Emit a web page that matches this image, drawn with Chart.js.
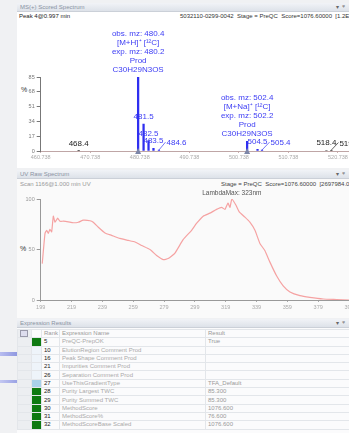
<!DOCTYPE html>
<html>
<head>
<meta charset="utf-8">
<script src="https://cdn.jsdelivr.net/npm/chart.js@4.4.1/dist/chart.umd.min.js"></script>
<style>
  body { margin: 0; width: 349px; height: 433px; overflow: hidden; position: relative;
         background: #f0f1f3; font-family: "Liberation Sans", Arial, sans-serif; }
  .panel { position: absolute; left: 17px; width: 340px; overflow: hidden; }
  .titlebar { position: absolute; left: 0; right: 0; top: 0; height: 8px; line-height: 8px;
              background: linear-gradient(#f1f3f7, #dde2e9); border-bottom: 1px solid #cbd0d8;
              font-size: 6px; color: #8a93a3; padding-left: 3px; }
  .titlebar span { position: absolute; right: 12px; top: 0; color: #666; }
  .txt { position: absolute; font-size: 6px; white-space: nowrap; }
  .wrap { position: absolute; }
  table { border-collapse: collapse; font-size: 6px; table-layout: fixed; }
  td { height: 7.3px; padding: 0 0 0 2px; border: 1px solid #e3e6ea; white-space: nowrap; overflow: hidden; line-height: 7px; }
  .sel { background: #eceef1; }
</style>
</head>
<body>
<div class="panel" style="top:3px;height:165px;background:#fff">
  <div class="titlebar">MS(+) Scored Spectrum<span>▾ &nbsp;ᵠ</span></div>
  <div class="txt" style="left:2px;top:10px;color:#222">Peak 4@0.997 min</div>
  <div class="txt" style="left:163px;top:10px;color:#333">5032110-0299-0042 &nbsp;Stage = PreQC &nbsp;Score=1076.60000 &nbsp;[1.2E08 &nbsp;cnt</div>
  <div class="txt" style="left:4px;top:83px;color:#333;font-size:7px">%</div>
</div>
<div class="panel" style="top:170px;height:148px;background:#fafafa">
  <div class="titlebar">UV Raw Spectrum<span>▾ &nbsp;ᵠ</span></div>
  <div class="txt" style="left:3px;top:11px;color:#999">Scan 1166@1.000 min UV</div>
  <div class="txt" style="left:204px;top:11px;color:#444">Stage = PreQC &nbsp;Score=1076.60000 &nbsp;[2697984.0 &nbsp;mAU]</div>
  <div class="txt" style="left:3px;top:75px;color:#333;font-size:7px">%</div>
</div>
<div class="panel" style="top:319px;height:114px;background:#fbfbfc">
  <div class="titlebar">Expression Results<span>▾ &nbsp;ᵠ</span></div>
  <div class="wrap" style="left:0;top:10px"><table id="results"></table></div>
</div>
<div style="position:absolute;left:0;top:352px;width:17px;height:4px;background:linear-gradient(90deg,#b8bdf0,#8f98e0)"></div>
<div style="position:absolute;left:0;top:380px;width:17px;height:3px;background:linear-gradient(90deg,#c4c8f2,#9aa2e4)"></div>

<div class="wrap" style="left:17px;top:22px;width:363px;height:143px"><canvas id="ms"></canvas></div>
<div class="wrap" style="left:17px;top:185px;width:363px;height:133px"><canvas id="uv"></canvas></div>

<script>
// MS(+) scored spectrum
const peakMz = [468.4, 480.4, 481.5, 482.5, 483.5, 484.6, 502.4, 504.5, 505.4, 518.4, 519.4];
const peakIntensity = [0.5, 85, 31, 12, 3, 1, 11, 2, 1, 0.6, 0.5];
const annotatedMz = [480.4, 502.4];
const annotations = [
  ['obs. mz: 480.4', '[M+H]\u207A [\u00B9\u00B2C]', 'exp. mz: 480.2', 'Prod', 'C30H29N3OS'],
  ['obs. mz: 502.4', '[M+Na]\u207A [\u00B9\u00B2C]', 'exp. mz: 502.2', 'Prod', 'C30H29N3OS']
];
const msTicks = [460.738, 470.738, 480.738, 490.738, 500.738, 510.738, 520.738];
const msYTicks = [0, 17, 34, 51, 68, 85];

// UV raw spectrum
const uvNm = [200, 201.8, 202.9, 203.9, 205, 206.1, 207.2, 208.3, 210, 211.5, 213.7, 216.9, 220.1, 223.4, 226.6,
  231, 233.1, 236.4, 240.7, 245, 250.4, 255.8, 260.2, 264.5, 269.9, 274.2, 278.5, 281.7, 286.1, 291.5, 296.9,
  300.2, 304.4, 308.8, 313.1, 316.4, 318.5, 320.5, 321.8, 323, 325.6, 327.8, 331.5, 334.7, 338, 341.2, 344.4,
  347.7, 352, 356.3, 360.7, 367.2, 373.6, 382.3, 391, 399];
const uvPct = [36, 66, 69, 66, 70, 67.5, 83, 77, 81, 78, 78, 77.4, 76.5, 77, 79,
  78.5, 77, 72, 66.4, 64, 61, 59, 57.4, 54, 50, 44, 40, 41, 46.5, 60, 69,
  76, 83, 86, 89.7, 91.7, 89.7, 96, 91.7, 100, 94, 87.3, 82, 77, 69, 56, 49,
  37.5, 24, 14, 8, 4.3, 2.6, 1, 0.5, 0];
const uvTicks = [199, 219, 239, 259, 279, 299, 319, 339, 359, 379, 399];
const uvYTicks = [0, 50, 100];
const lambdaMax = 323;

// Expression results
const ranks = [5, 10, 16, 21, 26, 27, 28, 29, 30, 31, 32];
const exprNames = ['PreQC-PrepOK', 'ElutionRegion Comment Prod', 'Peak Shape Comment Prod', 'Impurities Comment Prod',
  'Separation Comment Prod', 'UseThisGradientType', 'Purity Largest TWC', 'Purity Summed TWC', 'MethodScore',
  'MethodScore%', 'MethodScoreBase Scaled'];
const exprResults = ['True', '', '', '', '', 'TFA_Default', '85.300', '85.300', '1076.600', '76.600', '1076.600'];
const exprStatus = ['pass', 'none', 'none', 'none', 'none', 'info', 'pass', 'pass', 'pass', 'pass', 'pass'];

const FONT = '"Liberation Sans", Arial, sans-serif';
const isAnnotatedGroup = mz => annotatedMz.some(a => mz >= a && mz - a < 4.5);

const msLabels = {
  id: 'msLabels',
  afterDatasetsDraw(chart) {
    const { ctx, scales: { x, y } } = chart;
    const base = y.getPixelForValue(0);
    const boxes = [];
    ctx.save();
    ctx.font = '8px ' + FONT;
    peakMz.forEach((mz, i) => {
      const px = x.getPixelForValue(mz);
      const top = y.getPixelForValue(peakIntensity[i]);
      const baseline = Math.min(top - 5, base - 5);
      const color = isAnnotatedGroup(mz) ? '#3c3cf4' : '#222';
      ctx.fillStyle = color;
      ctx.strokeStyle = color;
      const ai = annotatedMz.indexOf(mz);
      if (ai >= 0) {
        const lines = annotations[ai];
        ctx.textAlign = 'center';
        lines.forEach((t, k) => ctx.fillText(t, px, baseline - (lines.length - 1 - k) * 9));
        ctx.fillStyle = '#7c86a8';
        ctx.beginPath();
        ctx.moveTo(px - 3, base + 3);
        ctx.lineTo(px + 3, base + 3);
        ctx.lineTo(px, base - 3);
        ctx.closePath();
        ctx.fill();
        return;
      }
      const label = mz.toFixed(1);
      const w = ctx.measureText(label).width;
      let left = px - w / 2;
      const hit = boxes.find(b => left < b.right && left + w > b.left &&
        baseline > b.baseline - 6 && baseline - 6 < b.baseline);
      if (hit) {
        left = hit.right + 3;
        ctx.lineWidth = 0.7;
        ctx.beginPath();
        ctx.moveTo(px, base - 1);
        ctx.lineTo(left - 1, baseline - 3);
        ctx.stroke();
      }
      ctx.textAlign = 'left';
      ctx.fillText(label, left, baseline);
      boxes.push({ left, right: left + w, baseline });
    });
    ctx.restore();
  }
};

new Chart(document.getElementById('ms'), {
  type: 'bar',
  data: {
    datasets: [{
      data: peakMz.map((mz, i) => ({ x: mz, y: peakIntensity[i] })),
      backgroundColor: peakMz.map(mz => isAnnotatedGroup(mz) ? '#2f2ff0' : '#333'),
      barThickness: 1.6,
      grouped: false
    }]
  },
  options: {
    responsive: true,
    maintainAspectRatio: false,
    animation: false,
    layout: { padding: { top: 55, right: 31, left: 0, bottom: 0 } },
    plugins: { legend: { display: false }, tooltip: { enabled: false } },
    scales: {
      x: {
        type: 'linear', min: 460.738, max: 522.96, offset: false,
        afterBuildTicks: s => { s.ticks = msTicks.map(v => ({ value: v })); },
        afterFit: s => { s.height = 14; },
        ticks: { callback: v => v.toFixed(3), color: '#aaa', font: { size: 5.5, family: FONT }, padding: 1, maxRotation: 0, autoSkip: false },
        grid: { drawOnChartArea: false, offset: false, tickLength: 2, color: '#c9b3b3' },
        border: { color: '#bfa6a6' }
      },
      y: {
        min: 0, max: 85,
        afterBuildTicks: s => { s.ticks = msYTicks.map(v => ({ value: v })); },
        afterFit: s => { s.width = 23.7; },
        ticks: { color: '#777', font: { size: 5.5, family: FONT }, padding: 2 },
        grid: { drawOnChartArea: false, tickLength: 4, color: '#777' },
        border: { color: '#777' }
      }
    }
  },
  plugins: [msLabels]
});

const uvLabel = {
  id: 'uvLabel',
  afterDatasetsDraw(chart) {
    const { ctx, scales: { x, y } } = chart;
    const i = uvNm.indexOf(lambdaMax);
    ctx.save();
    ctx.font = '6.5px ' + FONT;
    ctx.fillStyle = '#555';
    ctx.textAlign = 'center';
    ctx.fillText('LambdaMax: ' + lambdaMax + 'nm', x.getPixelForValue(lambdaMax), y.getPixelForValue(uvPct[i]) - 4);
    ctx.restore();
  }
};

new Chart(document.getElementById('uv'), {
  type: 'line',
  data: {
    datasets: [{
      data: uvNm.map((nm, i) => ({ x: nm, y: uvPct[i] })),
      borderColor: '#f5a2a2',
      borderWidth: 1.2,
      pointRadius: 0,
      tension: 0.15
    }]
  },
  options: {
    responsive: true,
    maintainAspectRatio: false,
    animation: false,
    layout: { padding: { top: 14, right: 31, left: 0, bottom: 0 } },
    plugins: { legend: { display: false }, tooltip: { enabled: false } },
    scales: {
      x: {
        type: 'linear', min: 199, max: 399,
        afterBuildTicks: s => { s.ticks = uvTicks.map(v => ({ value: v })); },
        afterFit: s => { s.height = 18; },
        ticks: { color: '#aaa', font: { size: 5.5, family: FONT }, padding: 2, maxRotation: 0, autoSkip: false },
        grid: { drawOnChartArea: false, tickLength: 2, color: '#aaa' },
        border: { color: '#999' }
      },
      y: {
        min: 0, max: 100,
        afterBuildTicks: s => { s.ticks = uvYTicks.map(v => ({ value: v })); },
        afterFit: s => { s.width = 23.7; },
        ticks: { color: '#999', font: { size: 5.5, family: FONT }, padding: 2 },
        grid: { drawOnChartArea: false, tickLength: 4, color: '#999' },
        border: { color: '#999' }
      }
    }
  },
  plugins: [uvLabel]
});

// results grid
const statusColor = { pass: '#0e7a12', info: '#a9d1ea', none: '#eef4fa' };
const tbl = document.getElementById('results');
let html = '<colgroup><col style="width:14px"><col style="width:10px"><col style="width:18px"><col style="width:146px"><col style="width:150px"></colgroup>';
html += '<tr style="color:#999"><td class="sel"><div style="width:6px;height:5px;border:1px solid #99a;background:#dde"></div></td><td></td><td>Rank</td><td>Expression Name</td><td>Result</td></tr>';
ranks.forEach((r, i) => {
  html += '<tr><td class="sel"></td><td style="background:' + statusColor[exprStatus[i]] + '"></td>' +
    '<td style="color:#222">' + r + '</td><td style="color:#aaa">' + exprNames[i] + '</td>' +
    '<td style="color:#999">' + exprResults[i] + '</td></tr>';
});
tbl.innerHTML = html;
</script>
</body>
</html>
